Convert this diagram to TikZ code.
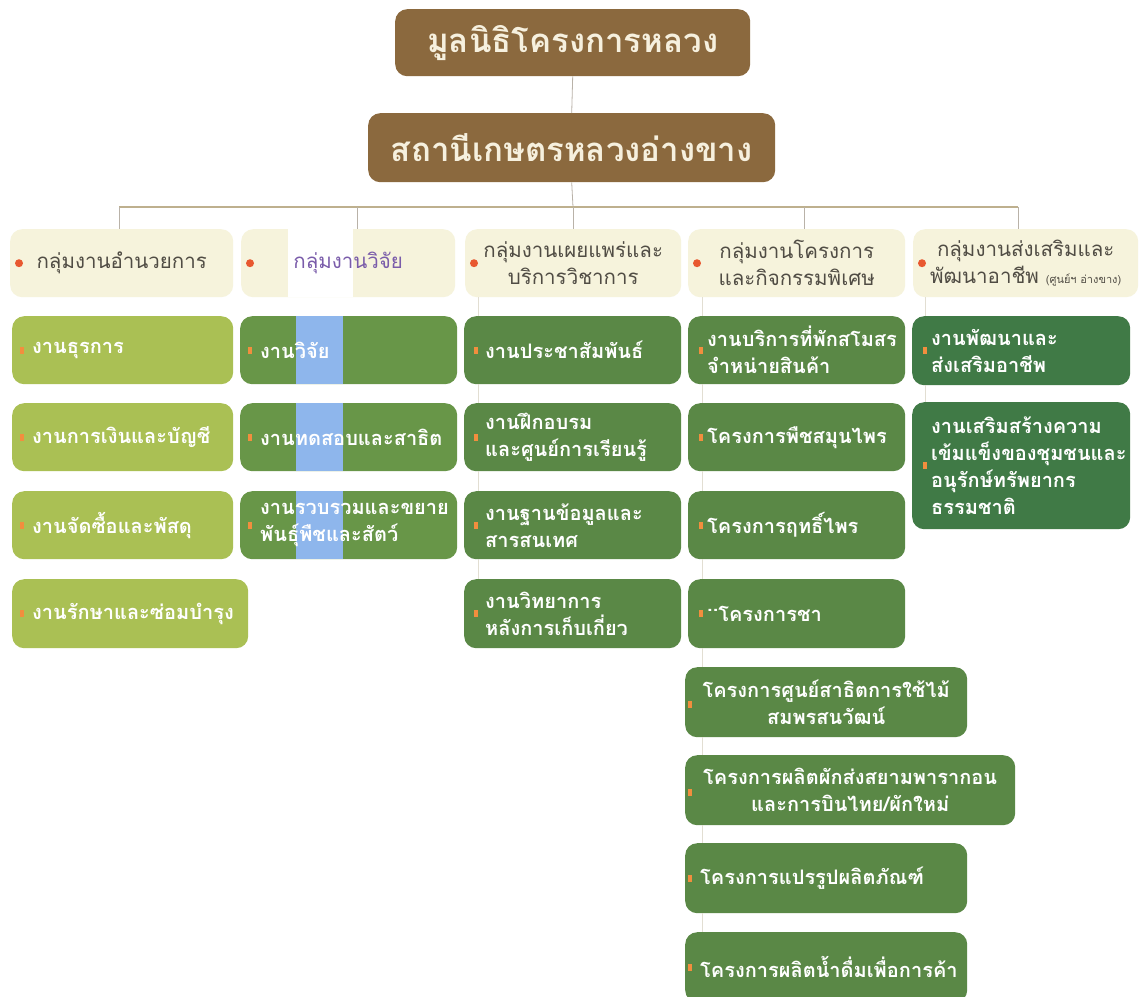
\documentclass[tikz,border=0pt]{standalone}
\usepackage{fontspec}
\setmainfont[Script=Thai]{Loma}
\definecolor{brownbox}{RGB}{139,105,62}
\definecolor{cream}{RGB}{246,240,222}
\definecolor{headbg}{RGB}{246,243,220}
\definecolor{headtx}{RGB}{80,76,68}
\definecolor{purpletx}{RGB}{122,92,170}
\definecolor{cone}{RGB}{170,192,84}
\definecolor{ctwo}{RGB}{104,150,72}
\definecolor{stripblue}{RGB}{142,182,236}
\definecolor{cthree}{RGB}{90,136,70}
\definecolor{cfive}{RGB}{64,122,70}
\definecolor{bulor}{RGB}{242,142,62}
\definecolor{dotred}{RGB}{232,88,48}
\definecolor{busc}{RGB}{190,176,142}
\definecolor{thinc}{RGB}{185,178,168}
\definecolor{faintc}{RGB}{226,222,210}
\tikzset{
  titlebox/.style={fill=brownbox, rounded corners=12pt, text=cream,
    font=\fontsize{33}{38}\selectfont\bfseries, inner sep=0pt, anchor=north west},
  headbox/.style={fill=headbg, rounded corners=12pt, text=headtx,
    font=\fontsize{20.5}{27}\selectfont, align=center, inner sep=0pt,
    minimum height=68pt, anchor=north west},
  itembox/.style={rounded corners=12pt, text=white,
    font=\fontsize{20}{27}\selectfont\bfseries, align=left,
    inner ysep=0pt, anchor=north west},
  bul/.style={fill=bulor},
  hdot/.style={fill=dotred},
  bus/.style={draw=busc, line width=1.6pt},
  thinline/.style={draw=thinc, line width=0.8pt},
  faint/.style={draw=faintc, line width=0.9pt},
  bluestrip/.style={path picture={\fill[stripblue, sharp corners]
    ([xshift=56pt]path picture bounding box.south west) rectangle
    ([xshift=103pt]path picture bounding box.north west);}},
  whitestrip/.style={path picture={\fill[white, sharp corners]
    ([xshift=47pt]path picture bounding box.south west) rectangle
    ([xshift=112pt]path picture bounding box.north west);}},
}
% #1 name, #2 x, #3 y, #4 text width, #5 height, #6 fill, #7 pad, #8 bullet shift, #9 text
\newcommand\mkitem[9]{%
  \node[itembox, fill=#6, text width=#4pt, inner xsep=#7pt, minimum height=#5pt] (#1) at (#2,#3) {#9};
  \fill[bul] ([xshift=#8pt,yshift=-3.5pt]#1.west) rectangle ++(4pt,7pt);}
\begin{document}
\begin{tikzpicture}[x=1pt,y=-1pt]
\useasboundingbox (0,0) rectangle (1143,996);
\fill[white] (0,0) rectangle (1143,996);

% faint spines behind the columns
\coordinate (f3) at (478,297);
\coordinate (f4) at (702,297);
\coordinate (f5) at (925,297);

% titles
\node[titlebox, minimum width=355pt, minimum height=67pt] (T1) at (395,9) {มูลนิธิโครงการหลวง};
\node[titlebox, minimum width=407pt, minimum height=69pt] (T2) at (368,113) {สถานีเกษตรหลวงอ่างขาง};

% headers
\node[headbox, minimum width=223pt] (H1) at (10,229) {กลุ่มงานอำนวยการ};
\node[headbox, minimum width=214pt, whitestrip, text=purpletx] (H2) at (241,229) {กลุ่มงานวิจัย};
\node[headbox, minimum width=216pt] (H3) at (465,229) {กลุ่มงานเผยแพร่และ\\บริการวิชาการ};
\node[headbox, minimum width=217pt] (H4) at (688,229) {กลุ่มงานโครงการ\\และกิจกรรมพิเศษ};
\node[headbox, minimum width=225pt] (H5) at (913,229) {กลุ่มงานส่งเสริมและ\\พัฒนาอาชีพ {\fontsize{11}{12}\selectfont (ศูนย์ฯ อ่างขาง)}};
\foreach \h in {H1,H2,H3,H4,H5} {\fill[hdot] ([xshift=9pt]\h.west) circle (4pt);}

% column 1
\mkitem{C11}{12}{316}{181}{68}{cone}{20}{8}{งานธุรการ}
\mkitem{C12}{12}{403}{181}{68}{cone}{20}{8}{งานการเงินและบัญชี}
\mkitem{C13}{12}{491}{181}{68}{cone}{20}{8}{งานจัดซื้อและพัสดุ}
\mkitem{C14}{12}{579}{196}{69}{cone}{20}{8}{งานรักษาและซ่อมบำรุง}

% column 2
\node[itembox, fill=ctwo, bluestrip, text width=177pt, inner xsep=20pt, minimum height=68pt] (C21) at (240,316) {งานวิจัย};
\node[itembox, fill=ctwo, bluestrip, text width=177pt, inner xsep=20pt, minimum height=68pt] (C22) at (240,403) {งานทดสอบและสาธิต};
\node[itembox, fill=ctwo, bluestrip, text width=177pt, inner xsep=20pt, minimum height=68pt] (C23) at (240,491) {งานรวบรวมและขยาย\\พันธุ์พืชและสัตว์};
\foreach \c in {C21,C22,C23} {\fill[bul] ([xshift=8pt,yshift=-3.5pt]\c.west) rectangle ++(4pt,7pt);}

% column 3
\mkitem{C31}{464}{316}{175}{68}{cthree}{21}{10}{งานประชาสัมพันธ์}
\mkitem{C32}{464}{403}{175}{68}{cthree}{21}{10}{งานฝึกอบรม\\และศูนย์การเรียนรู้}
\mkitem{C33}{464}{491}{175}{68}{cthree}{21}{10}{งานฐานข้อมูลและ\\สารสนเทศ}
\mkitem{C34}{464}{579}{175}{69}{cthree}{21}{10}{งานวิทยาการ\\หลังการเก็บเกี่ยว}

% column 4
\mkitem{C41}{688}{316}{179}{68}{cthree}{19}{11}{งานบริการที่พักสโมสร\\จำหน่ายสินค้า}
\mkitem{C42}{688}{403}{179}{68}{cthree}{19}{11}{โครงการพืชสมุนไพร}
\mkitem{C43}{688}{491}{179}{68}{cthree}{19}{11}{โครงการฤทธิ์ไพร}
\mkitem{C44}{688}{579}{179}{69}{cthree}{19}{11}{\raisebox{0.5em}{..}โครงการชา}
\node[itembox, fill=cthree, align=center, text width=256pt, inner xsep=13pt, minimum height=70pt] (C45) at (685,667) {โครงการศูนย์สาธิตการใช้ไม้\\สมพรสนวัฒน์};
\node[itembox, fill=cthree, align=center, text width=304pt, inner xsep=13pt, minimum height=70pt] (C46) at (685,755) {โครงการผลิตผักส่งสยามพารากอน\\และการบินไทย/ผักใหม่};
\mkitem{C47}{685}{843}{252}{70}{cthree}{15}{3}{โครงการแปรรูปผลิตภัณฑ์}
\mkitem{C48}{685}{932}{252}{70}{cthree}{15}{3}{โครงการผลิตน้ำดื่มเพื่อการค้า}
\foreach \c in {C45,C46} {\fill[bul] ([xshift=3pt,yshift=-6pt]\c.west) rectangle ++(4pt,7pt);}

% column 5
\mkitem{C51}{912}{316}{180}{69}{cfive}{19}{11}{งานพัฒนาและ\\ส่งเสริมอาชีพ}
\mkitem{C52}{912}{402}{180}{127}{cfive}{19}{11}{งานเสริมสร้างความ\\เข้มแข็งของชุมชนและ\\อนุรักษ์ทรัพยากร\\ธรรมชาติ}

% connectors
\coordinate (bus) at (573,207);
\coordinate (d1) at (119,207);
\coordinate (d2) at (357,207);
\coordinate (d4) at (804,207);
\coordinate (d5) at (1018,207);
\draw[thinline] (T1.south) -- (T2.north);
\draw[thinline] (T2.south) -- (bus);
\draw[bus] (d1) -- (d5);
\draw[thinline] (d1) -- (d1 |- H1.north);
\draw[thinline] (d2) -- (d2 |- H2.north);
\draw[thinline] (bus) -- (bus |- H3.north);
\draw[thinline] (d4) -- (d4 |- H4.north);
\draw[thinline] (d5) -- (d5 |- H5.north);

% faint links inside columns 3, 4, 5
\foreach \a/\b in {H3/C31,C31/C32,C32/C33,C33/C34} {\draw[faint] (f3 |- \a.south) -- (f3 |- \b.north);}
\foreach \a/\b in {H4/C41,C41/C42,C42/C43,C43/C44,C44/C45,C45/C46,C46/C47,C47/C48} {\draw[faint] (f4 |- \a.south) -- (f4 |- \b.north);}
\foreach \a/\b in {H5/C51,C51/C52} {\draw[faint] (f5 |- \a.south) -- (f5 |- \b.north);}
\end{tikzpicture}
\end{document}
